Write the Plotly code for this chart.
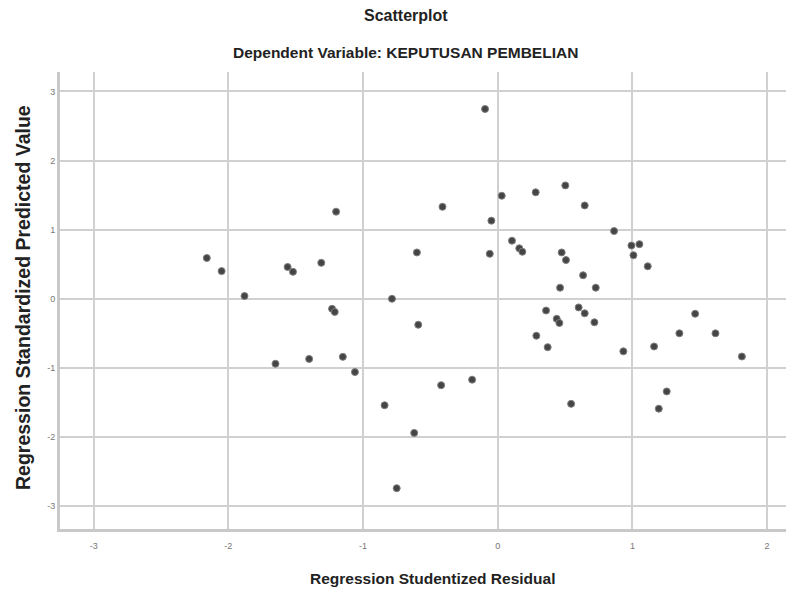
import plotly.graph_objects as go

residual = [-2.16, -2.05, -1.88, -1.65, -1.56, -1.52, -1.40, -1.31, -1.23, -1.21,
            -1.20, -1.15, -1.06, -0.84, -0.785, -0.75, -0.62, -0.60, -0.59, -0.42,
            -0.41, -0.19, -0.094, -0.059, -0.047, 0.030, 0.106, 0.160, 0.183, 0.282,
            0.287, 0.359, 0.371, 0.438, 0.458, 0.463, 0.475, 0.502, 0.507, 0.545,
            0.601, 0.634, 0.646, 0.646, 0.718, 0.728, 0.864, 0.933, 0.993, 1.008,
            1.052, 1.114, 1.161, 1.196, 1.255, 1.349, 1.466, 1.617, 1.813]
predicted = [0.59, 0.40, 0.04, -0.94, 0.46, 0.39, -0.87, 0.52, -0.145, -0.19,
             1.26, -0.84, -1.06, -1.54, 0.00, -2.74, -1.94, 0.67, -0.376, -1.25,
             1.33, -1.17, 2.745, 0.65, 1.13, 1.49, 0.84, 0.73, 0.68, 1.54,
             -0.535, -0.17, -0.70, -0.29, -0.35, 0.16, 0.67, 1.64, 0.56, -1.52,
             -0.125, 0.34, -0.21, 1.35, -0.34, 0.16, 0.98, -0.76, 0.77, 0.63,
             0.79, 0.47, -0.69, -1.59, -1.34, -0.50, -0.217, -0.50, -0.835]

x_ticks = [-3, -2, -1, 0, 1, 2]
y_ticks = [-3, -2, -1, 0, 1, 2, 3]

# page body has an 8px default margin; figure is sized/positioned to compensate
OFF = 8
W, H = 794 - OFF, 593 - OFF
L, R, T = 60 - OFF, 0, 72 - OFF
B = H - (529 - OFF)
plot_w = W - L - R
plot_h = H - T - B


def px_x(x):
    return (x - OFF - L) / plot_w


def px_y(y):
    return (T + plot_h - (y - OFF)) / plot_h


fig = go.Figure()
fig.add_trace(go.Scatter(
    x=residual, y=predicted, mode="markers",
    marker=dict(size=7, color="#454545", line=dict(width=1, color="#808080")),
    showlegend=False,
))

fig.update_layout(
    width=W, height=H,
    margin=dict(l=L, r=R, t=T, b=B, autoexpand=False),
    paper_bgcolor="white", plot_bgcolor="white",
    font=dict(family="Liberation Sans, Arial, sans-serif", color="#222"),
    annotations=[
        dict(text="<b>Scatterplot</b>", x=px_x(406), y=px_y(15),
             xref="paper", yref="paper", xanchor="center", yanchor="middle",
             showarrow=False, font=dict(size=16, color="#222")),
        dict(text="<b>Dependent Variable: KEPUTUSAN PEMBELIAN</b>",
             x=px_x(405), y=px_y(52),
             xref="paper", yref="paper", xanchor="center", yanchor="middle",
             showarrow=False, font=dict(size=15.5, color="#222")),
        dict(text="<b>Regression Studentized Residual</b>",
             x=px_x(432), y=px_y(578),
             xref="paper", yref="paper", xanchor="center", yanchor="middle",
             showarrow=False, font=dict(size=15.5, color="#222")),
        dict(text="<b>Regression Standardized Predicted Value</b>",
             x=px_x(23), y=px_y(298), textangle=-90,
             xref="paper", yref="paper", xanchor="center", yanchor="middle",
             showarrow=False, font=dict(size=19.5, color="#222")),
    ],
)

fig.update_xaxes(
    range=[-3.25, 2.20], tickvals=x_ticks, ticktext=[str(v) for v in x_ticks],
    showgrid=True, gridcolor="#d0d0d0", gridwidth=1.5,
    showline=True, linecolor="#c8c8c8", linewidth=3,
    zeroline=False, ticks="", tickfont=dict(size=9, color="#777"),
    ticklabelstandoff=6, automargin=False,
)
fig.update_yaxes(
    range=[-3.33, 3.28], tickvals=y_ticks, ticktext=[str(v) for v in y_ticks],
    showgrid=True, gridcolor="#d0d0d0", gridwidth=1.5,
    showline=True, linecolor="#c8c8c8", linewidth=3,
    zeroline=False, ticks="", tickfont=dict(size=9, color="#777"),
    automargin=False,
)

fig.write_html("out.html")
